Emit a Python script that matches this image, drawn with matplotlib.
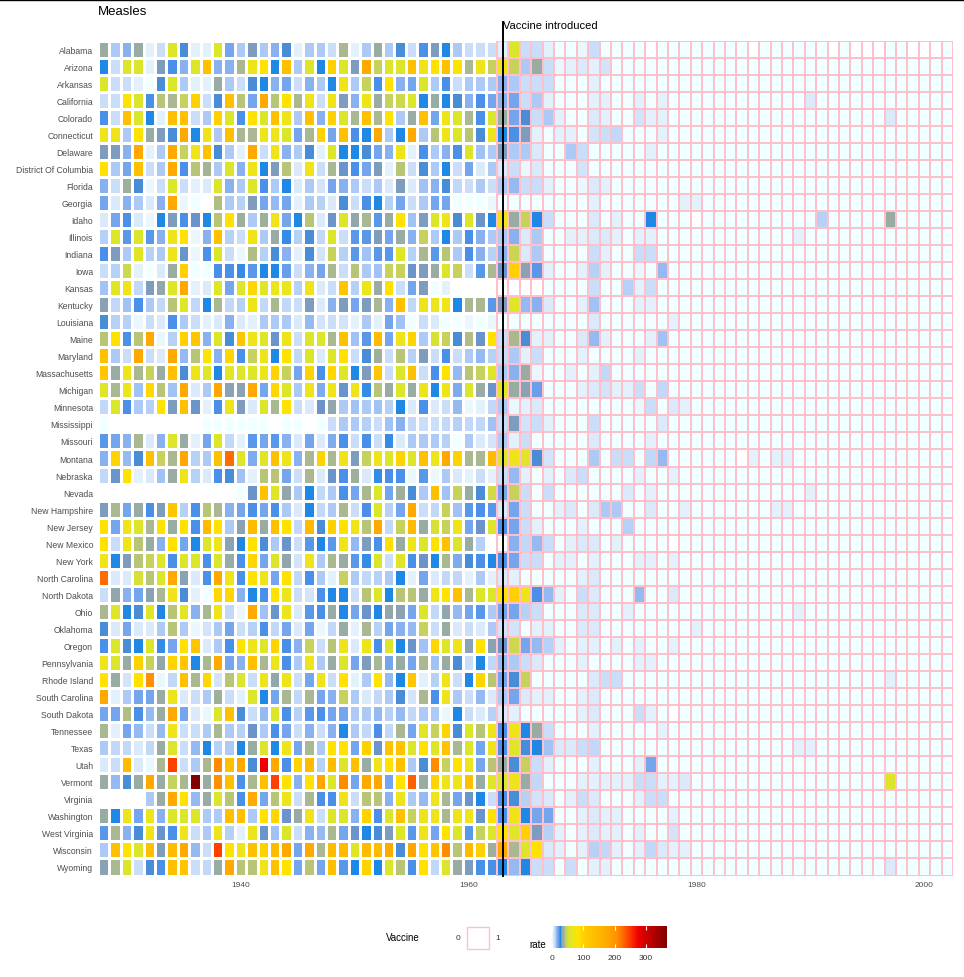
import numpy as np
import matplotlib
matplotlib.use("Agg")
import matplotlib.pyplot as plt
from matplotlib.colors import LinearSegmentedColormap, Normalize
from matplotlib.cm import ScalarMappable
from matplotlib.patches import Rectangle
from matplotlib.lines import Line2D
from matplotlib.transforms import blended_transform_factory

plt.rcParams['font.family'] = ['Liberation Sans', 'DejaVu Sans']

N = np.nan
years = np.arange(1928, 2003)
vaccine_year = 1963

states = ["Alabama", "Arizona", "Arkansas", "California", "Colorado", "Connecticut",
          "Delaware", "District Of Columbia", "Florida", "Georgia", "Idaho", "Illinois",
          "Indiana", "Iowa", "Kansas", "Kentucky", "Louisiana", "Maine", "Maryland",
          "Massachusetts", "Michigan", "Minnesota", "Mississippi", "Missouri", "Montana",
          "Nebraska", "Nevada", "New Hampshire", "New Jersey", "New Mexico", "New York",
          "North Carolina", "North Dakota", "Ohio", "Oklahoma", "Oregon", "Pennsylvania",
          "Rhode Island", "South Carolina", "South Dakota", "Tennessee", "Texas", "Utah",
          "Vermont", "Virginia", "Washington", "West Virginia", "Wisconsin", "Wyoming"]

# measles rate per state, one value per year 1928-2002
rates = [
    [35,12,16,35,4, 8,55,28,4,4, 55,20,12,31,12, 16,28,4,12,12, 8,39,4,12,35, 12,28,8,23,31, 26,12,8,8,8, 4,55,8,8,4,
     0,0,2,8,0, 0,0,0,N,0, 0,0,0,0,0, 0,0,N,0,0, 0,0,0,0,N, 0,N,N,N,0, 0,N,N,N,0],  # Alabama
    [26,8,55,55,4, 31,23,16,55,130, 16,16,39,70,85, 26,130,12,55,26, 100,55,31,175,45, 55,55,130,70,85, 130,85,39,70,45, 70,45,12,35,8,
     2,4,5,4,6, 0,0,0,0,0, 0,0,0,0,0, 0,0,0,0,0, 0,0,0,0,0, 0,0,0,0,0, 0,0,0,0,0],  # Arizona
    [55,8,8,4,1, 28,55,12,4,4, 35,12,8,28,26, 16,20,8,16,12, 26,70,12,45,23, 85,16,20,55,12, 23,8,12,12,12, 16,12,8,8,8,
     0,0,0,4,0, 0,0,0,0,0, 0,0,0,0,0, 0,0,0,0,0, 0,0,0,0,0, 0,0,0,0,0, 0,0,0,0,0],  # Arkansas
    [8,8,85,55,23, 42,39,45,100,8, 28,130,42,20,175, 42,85,40,70,8, 70,31,16,70,35, 45,48,55,26,35, 26,28,16,23,20, 16,20,8,12,4,
     0,0,0,4,4, 0,0,4,0,4, 0,0,0,0,0, 0,0,0,0,0, 0,0,5,0,0, 0,0,0,0,0, 0,0,0,0,0],  # California
    [23,8,130,55,26, 4,130,130,8,12, 100,55,23,85,55, 130,70,12,130,16, 100,55,39,130,39, 85,12,35,130,20, 70,55,39,23,55, 35,20,28,8,12,
     4,0,0,5,4, 0,0,6,4,4, 0,0,0,0,0, 0,0,0,0,0, 0,0,0,0,0, 0,0,0,0,5, 0,0,0,0,0],  # Colorado
    [70,70,12,85,35, 31,28,175,26,70, 12,130,40,39,70, 70,55,20,39,100, 20,130,23,26,175, 12,26,175,12,42, 70,55,42,28,70, 26,23,31,4,1,
     4,4,0,6,8, 9,0,0,0,4, 0,0,0,0,0, 0,0,0,0,0, 0,0,0,0,0, 0,0,0,0,0, 0,0,0,0,0],  # Connecticut
    [31,31,16,175,4, 12,175,45,70,130, 28,12,4,175,8, 70,16,12,28,4, 55,26,26,28,20, 16,70,4,23,12, 16,23,55,14,12, 31,12,12,5,1,
     0,12,8,0,0, 0,0,0,4,0, 0,0,0,0,0, 0,0,0,0,0, 0,0,0,0,0, 0,0,0,0,0, 0,0,0,0,0],  # Delaware
    [85,12,20,130,8, 12,175,23,42,38, 12,55,16,70,26, 31,42,5,70,8, 39,30,23,20,31, 4,42,8,28,12, 26,8,20,5,12, 5,8,2,5,1,
     0,0,6,0,0, 0,0,0,0,0, 0,0,0,0,0, 0,0,0,0,0, 0,0,0,0,0, 0,0,0,0,0, 0,0,0,0,0],  # District Of Columbia
    [16,8,37,28,2, 8,55,8,4,5, 55,16,12,55,23, 12,26,5,12,6, 20,16,12,8,12, 5,31,5,14,16, 28,10,8,12,8, 12,15,8,8,4,
     0,0,2,5,3, 0,0,0,0,0, 0,0,0,0,0, 0,0,0,0,0, 0,0,0,0,0, 0,0,0,0,0, 0,0,0,0,0],  # Florida
    [20,5,16,12,5, 16,175,2,1,N, 41,12,11,31,20, 15,20,4,12,11, 5,28,8,23,26, 11,20,8,12,20, 20,1,0,1,2, 1,0,0,0,0,
     0,0,0,4,0, 0,0,0,0,0, 0,3,3,0,0, 0,0,0,0,0, 0,0,0,0,0, 0,0,0,0,0, 0,0,0,0,0],  # Georgia
    [5,20,23,5,2, 26,31,23,30,27, 42,85,36,12,36, 70,20,26,42,5, 30,55,33,39,22, 35,85,13,31,55, 70,28,55,30,26, 70,35,45,26,8,
     0,0,0,5,0, 4,0,0,26,0, 0,0,N,0,0, 0,0,0,0,0, 0,0,0,11,0, 0,0,0,0,35, 0,0,0,0,0],  # Idaho
    [11,55,22,55,22, 16,70,85,2,16, 130,11,8,70,12, 35,25,11,28,9, 55,8,22,22,31, 20,35,16,45,12, 26,12,23,16,12, 12,16,5,12,1,
     0,3,4,5,5, 3,0,3,3,0, 0,0,0,0,0, 0,0,0,0,0, 0,4,0,0,0, 0,0,0,0,0, 0,0,0,0,0],  # Illinois
    [24,31,12,58,11, 12,68,30,2,23, 55,8,2,41,11, 28,16,4,28,6, 45,11,22,13,22, 22,58,11,39,22, 42,12,23,16,11, 16,47,5,12,1,
     0,0,0,8,4, 0,0,8,8,0, 0,0,0,0,0, 0,0,0,0,0, 0,0,0,0,0, 0,0,0,0,0, 0,0,0,0,0],  # Indiana
    [8,11,48,4,0, 5,35,100,0,0, 23,23,25,22,26, 27,21,8,16,20, 39,8,42,12,13, 45,45,30,31,35, 55,45,8,22,39, 30,100,32,22,4,
     0,0,3,11,3, 0,0,2,0,15, 0,0,0,0,0, 0,0,0,0,0, 0,0,0,0,0, 0,0,0,0,0, 0,0,0,0,0],  # Iowa
    [13,58,70,10,31, 33,58,175,4,5, 58,20,55,95,58, 66,66,11,70,5, 8,120,11,66,35, 85,8,20,31,1, 4,N,N,N,N, N,N,N,N,0,
     0,0,0,8,0, 0,11,4,8,0, 0,0,0,0,0, 0,0,0,0,0, 0,0,0,0,0, 0,0,0,0,0, 0,0,0,0,0],  # Kansas
    [32,9,13,23,12, 9,42,57,9,27, 40,9,11,70,9, 40,9,8,31,5, 16,31,20,31,40, 16,130,9,68,68, 72,26,39,39,22, 31,58,15,17,5,
     0,0,4,13,0, 0,0,4,4,0, 0,0,0,0,0, 0,0,0,0,0, 0,0,0,0,0, 0,0,0,0,0, 0,0,0,0,0],  # Kentucky
    [28,11,11,2,8, 5,23,12,8,4, 5,16,5,4,12, 12,12,5,15,6, 8,6,4,12,4, 20,13,1,8,5, 1,1,2,1,2, 1,0,0,0,0,
     0,0,0,5,0, 0,0,0,0,0, 3,0,0,0,0, 0,0,0,0,0, 0,0,0,0,0, 0,0,0,0,0, 0,0,0,0,0],  # Louisiana
    [42,85,23,42,175, 2,11,100,120,16, 55,28,120,70,58, 30,70,8,55,55, 39,130,13,22,140, 20,68,98,12,52, 45,28,41,30,85, 8,40,28,4,4,
     0,0,5,15,4, 0,0,0,3,14, 0,0,0,0,0, 0,0,0,0,0, 0,0,0,0,0, 0,0,0,0,0, 0,0,0,0,0],  # Maine
    [130,12,8,175,8, 5,175,15,42,85, 16,95,23,45,68, 26,85,10,55,5, 55,85,8,28,36, 8,42,11,31,8, 23,8,12,15,11, 8,12,4,8,1,
     0,0,4,0,0, 0,0,3,0,0, 0,0,0,0,0, 0,0,0,0,0, 0,0,0,0,0, 0,0,0,0,0, 0,0,0,0,0],  # Maryland
    [120,35,70,39,45, 35,130,28,68,57, 26,62,57,57,68, 98,45,20,98,23, 95,58,27,31,120, 8,55,130,8,23, 85,15,42,45,55, 12,16,35,2,1,
     0,3,0,4,9, 0,0,0,0,0, 0,0,0,0,0, 0,0,0,0,0, 0,0,0,0,0, 0,0,0,0,0, 0,0,0,0,0],  # Massachusetts
    [58,39,68,14,95, 42,14,180,5,12, 180,32,32,175,20, 95,55,12,68,18, 70,30,68,25,42, 35,55,35,68,26, 70,18,55,35,30, 58,35,32,21,1,
     0,0,4,5,6, 4,4,8,0,10, 0,0,0,0,0, 0,0,0,0,0, 0,0,0,0,0, 0,0,0,0,0, 0,0,0,0,0],  # Michigan
    [9,55,23,12,11, 85,31,130,30,4, 23,70,31,5,55, 40,85,8,5,30, 34,12,14,12,14, 11,26,5,24,5, 8,15,2,4,10, 12,2,4,5,1,
     0,0,0,0,0, 0,0,2,8,0, 5,4,0,0,0, 0,0,0,0,0, 0,0,0,0,0, 0,0,0,0,0, 0,0,0,0,0],  # Minnesota
    [0,N,N,N,N, N,N,N,N,0, 0,0,0,0,0, N,0,0,N,1, 8,12,12,11,8, 14,16,9,8,8, 9,11,9,9,14, 8,31,6,8,4,
     0,0,0,8,0, 0,0,0,0,5, 0,0,0,0,0, 0,0,0,0,0, 0,0,0,0,0, 0,0,0,0,0, 0,0,0,0,0],  # Mississippi
    [22,20,16,40,5, 16,55,35,4,20, 55,9,4,22,20, 22,16,5,20,5, 18,23,8,23,8, 25,5,12,12,12, 11,1,12,5,6, 12,4,8,1,1,
     0,0,0,5,0, 0,0,0,3,0, 0,0,0,0,0, 0,0,0,0,0, 0,0,0,0,0, 0,0,0,0,0, 0,0,0,0,0],  # Missouri
    [16,98,15,28,130, 45,39,180,11,12, 130,225,57,18,57, 130,70,16,40,98, 40,70,31,45,70, 55,98,55,130,68, 175,98,39,40,140, 55,70,57,28,6,
     0,0,0,12,0, 8,8,0,9,15, 0,0,0,0,0, 0,N,4,0,4, 3,0,0,0,0, 0,0,0,0,0, 0,0,0,0,0],  # Montana
    [10,30,85,4,5, 14,35,70,11,5, 23,28,14,4,42, 42,20,8,40,5, 30,23,36,5,25, 23,23,2,22,2, 12,5,4,8,3, 8,15,4,1,4,
     0,5,8,0,0, 0,0,4,0,0, 3,0,0,0,0, 0,0,0,0,0, 0,0,0,0,0, 0,0,0,0,0, 0,0,0,0,0],  # Nebraska
    [N,N,N,N,N, N,N,N,N,N, N,N,0,30,130, 57,34,12,27,10, 12,24,19,40,55, 19,36,28,12,130, 13,45,35,28,50, 20,45,8,1,8,
     0,0,0,0,0, 0,5,0,4,0, 0,0,0,0,0, 0,0,0,0,0, 0,0,3,0,0, 0,0,0,0,0, 0,0,0,0,0],  # Nevada
    [31,39,20,35,23, 31,120,11,23,42, 40,16,19,23,19, 23,12,5,26,10, 12,40,8,24,55, 11,19,175,8,10, 45,14,22,23,22, 5,19,8,1,1,
     4,5,0,5,12, 12,0,0,5,0, 0,4,0,0,0, 0,0,0,0,3, 3,0,0,0,0, 0,0,0,0,0, 0,0,0,0,0],  # New Hampshire
    [85,20,70,55,39, 85,35,85,23,140, 85,12,32,140,35, 130,85,10,140,28, 100,85,70,42,175, 10,45,140,35,52, 45,70,19,30,55, 23,20,8,4,1,
     0,0,3,0,0, 0,11,0,0,0, 0,0,0,0,0, 0,0,0,0,0, 0,0,0,0,0, 0,0,0,0,0, 0,0,0,0,0],  # New Jersey
    [85,8,70,42,35, 16,85,20,26,55, 70,32,26,85,28, 12,30,8,22,27, 22,70,15,31,23, 85,35,68,55,85, 130,55,35,11,N, N,16,10,15,8,
     0,4,5,5,0, 4,0,0,0,0, N,0,0,0,0, 0,0,0,0,0, 0,0,0,0,0, 0,0,0,0,0, 0,0,0,0,0],  # New Mexico
    [70,26,31,42,45, 57,24,55,55,23, 55,35,24,95,20, 55,34,6,68,12, 39,35,22,25,55, 8,57,23,30,26, 39,18,28,23,27, 23,19,8,8,1,
     3,3,0,4,0, 0,0,4,3,0, 3,0,0,0,0, 0,0,0,0,0, 0,0,0,0,0, 0,0,0,0,0, 0,0,0,0,0],  # New York
    [225,5,5,52,42, 55,175,32,5,24, 175,70,24,85,68, 20,85,9,23,12, 4,45,12,10,11, 12,26,4,20,5, 10,10,4,12,4, 5,4,1,1,1,
     0,0,3,5,0, 0,0,0,0,0, 0,0,0,0,0, 0,0,0,0,0, 0,0,0,0,0, 0,0,0,0,0, 0,0,0,0,0],  # North Carolina
    [8,34,16,20,32, 39,70,28,4,1, 95,95,16,26,24, 85,68,8,6,23, 26,27,8,42,55, 27,42,42,35,70, 85,130,40,55,55, 85,100,70,24,15,
     4,0,8,5,0, 0,0,15,0,0, 5,0,0,0,0, 0,0,0,0,0, 0,0,0,0,0, 0,0,0,0,0, 0,0,0,0,0],  # North Dakota
    [39,57,27,28,57, 26,42,57,16,39, 70,9,2,175,13, 29,68,5,22,24, 35,27,19,30,27, 34,32,20,55,10, 33,15,20,22,12, 20,20,11,8,1,
     0,0,5,5,0, 0,4,0,0,0, 0,0,0,0,0, 0,0,0,0,0, 0,4,0,0,0, 0,0,0,0,0, 0,0,0,0,0],  # Ohio
    [28,5,19,5,5, 12,42,12,2,6, 12,20,8,11,24, 9,19,5,20,2, 9,35,4,39,11, 20,16,15,45,8, 35,5,8,5,12, 6,7,1,4,4,
     0,0,5,5,0, 0,0,0,0,0, 0,0,4,0,0, 0,0,0,0,0, 0,0,0,0,0, 0,0,0,0,0, 0,0,0,0,0],  # Oklahoma
    [24,55,28,27,55, 25,20,85,120,5, 12,24,85,70,57, 98,24,16,45,8, 42,70,5,70,23, 55,27,30,14,95, 55,70,32,85,32, 30,48,20,15,11,
     4,0,4,4,0, 4,0,4,0,0, 4,0,0,0,0, 0,0,0,0,0, 0,0,0,0,0, 0,0,0,0,0, 0,0,0,0,0],  # Oregon
    [70,55,35,100,45, 33,98,120,26,40, 175,20,16,130,39, 68,24,12,70,12, 35,55,20,31,39, 19,35,20,40,14, 35,28,8,26,9, 15,12,8,5,1,
     0,0,4,0,0, 0,0,4,4,0, 0,0,0,0,0, 0,0,0,0,0, 0,0,0,0,0, 0,0,0,0,0, 0,0,0,0,0],  # Pennsylvania
    [85,35,6,85,205, 2,9,130,40,95, 6,42,55,8,68, 33,68,8,20,70, 8,85,4,12,85, 15,26,120,4,11, 68,8,26,98,42, 20,28,45,1,1,
     0,0,0,5,8, 8,0,0,0,0, 0,0,0,0,0, 0,0,0,0,0, 0,0,0,0,0, 0,0,0,0,4, 0,0,0,0,0],  # Rhode Island
    [175,4,12,20,19, 35,68,5,8,12, 36,8,4,55,26, 19,40,9,39,19, 16,45,12,5,10, 12,28,6,39,24, 68,12,8,15,5, 12,20,5,4,3,
     0,0,4,5,0, 0,0,0,0,0, 0,0,0,0,0, 0,0,0,0,0, 0,0,0,0,0, 0,0,0,0,0, 0,0,0,0,0],  # South Carolina
    [20,20,41,24,15, 35,175,20,5,2, 55,130,28,8,15, 55,24,11,22,23, 20,19,12,12,15, 11,15,10,12,12, 2,26,8,5,11, 5,4,1,1,1,
     0,0,3,5,0, 0,0,8,4,0, N,0,0,0,0, 0,0,0,0,0, 0,0,0,0,0, 0,0,0,0,0, 0,0,0,0,0],  # South Dakota
    [40,4,20,15,8, 15,70,8,8,12, 40,12,11,30,12, 23,20,8,16,8, 16,26,12,10,23, 10,40,20,57,45, 98,28,55,42,70, 23,70,26,35,8,
     0,0,0,4,0, 0,0,0,0,4, 0,0,0,0,0, 0,0,0,0,0, 0,0,0,0,0, 0,0,0,0,0, 0,0,0,0,0],  # Tennessee
    [12,9,9,5,9, 35,55,8,15,26, 11,12,27,35,55, 27,68,20,40,12, 85,85,20,100,30, 125,125,55,85,57, 125,39,55,19,68, 23,57,28,26,14,
     5,5,8,10,0, 0,0,0,0,0, 0,0,0,0,0, 0,0,0,0,0, 0,4,4,0,0, 0,0,0,0,0, 0,0,0,0,0],  # Texas
    [5,8,140,5,2, 40,245,8,12,40, 210,130,175,28,275, 175,23,98,140,11, 140,55,130,35,70, 85,130,12,28,210, 45,85,68,20,42, 35,28,45,8,4,
     0,0,0,4,0, 0,0,4,20,0, 0,0,0,0,0, 0,0,0,0,0, 0,0,0,0,0, 0,0,0,0,0, 0,0,0,0,0],  # Utah
    [35,15,28,35,175, 35,45,39,365,35, 205,130,23,40,130, 245,85,16,85,180, 55,210,19,175,180, 19,85,230,35,98, 68,68,130,35,58, 55,68,35,10,1,
     0,0,4,4,4, 4,4,8,8,4, 4,5,0,0,0, 0,0,0,0,0, 0,0,0,0,0, 0,0,0,0,55, 0,0,0,0,0],  # Vermont
    [N,N,N,N,12, 35,175,85,15,35, 55,42,24,175,20, 42,68,8,39,23, 24,68,8,42,42, 16,68,12,15,68, 39,20,30,26,8, 23,28,11,6,5,
     0,3,8,5,0, 0,0,3,8,8, 0,0,0,0,0, 0,0,0,0,0, 0,0,0,0,0, 0,0,0,0,0, 0,0,0,0,0],  # Virginia
    [35,26,68,20,70, 16,55,55,55,12, 12,130,130,12,85, 95,30,35,68,8, 55,55,16,98,24, 55,130,45,68,68, 40,68,68,30,85, 23,70,26,19,19,
     0,0,3,5,3, 3,0,0,0,0, 4,0,0,0,0, 0,0,0,0,0, 0,0,0,0,0, 0,0,0,0,0, 0,0,0,0,0],  # Washington
    [22,40,16,28,68, 30,24,68,8,12, 68,11,4,68,30, 14,55,8,16,15, 39,20,30,27,28, 31,55,22,68,20, 85,55,22,45,55, 85,57,100,31,11,
     3,0,3,5,3, 3,0,3,0,0, 6,0,0,0,0, 0,0,0,0,0, 0,0,0,0,0, 0,0,0,0,0, 0,0,0,0,0],  # West Virginia
    [12,130,85,55,130, 31,140,175,15,8, 245,85,70,130,100, 140,175,19,175,39, 140,140,58,140,140, 175,28,180,85,125, 210,42,140,100,36, 175,39,55,85,5,
     4,0,3,11,10, 4,0,4,10,5, 4,4,0,0,0, 0,0,0,0,0, 0,0,0,0,0, 0,0,0,0,0, 0,0,0,0,0],  # Wisconsin
    [32,39,55,8,28, 24,130,120,8,10, 35,175,42,42,70, 130,85,19,42,19, 130,22,27,98,26, 55,42,23,85,10, 55,35,31,23,24, 26,15,26,8,8,
     0,8,0,4,4, 0,0,0,0,0, 0,0,0,0,0, 0,0,0,0,0, 0,0,0,0,0, 0,0,0,0,5, 0,0,0,0,0],  # Wyoming
]
for r in rates:
    assert len(r) == len(years)

# colour ramp: azure -> blues -> grey -> yellow -> orange -> red -> dark red
stops = [0, 2, 4, 8, 12, 16, 20, 23, 26, 28, 31, 35, 39, 45, 55, 70, 85, 100, 130, 175, 210, 230, 245, 275, 367]
stop_colors = ["#F0FFFF", "#E8F5FE", "#DDEBFB", "#C6DBF8", "#A8C8F5", "#88B0F0", "#6AA0EB", "#4A90E8",
               "#1E88E5", "#6090D0", "#88A0B8", "#9AAEA0", "#AAB890", "#C8D458", "#DCE628", "#F0E418",
               "#FFE200", "#FFD000", "#FFC000", "#FFAA00", "#FF8C00", "#FF6000", "#FF4000", "#EE0000", "#800000"]
vmax = stops[-1]
cmap = LinearSegmentedColormap.from_list("measles", [(v / vmax, c) for v, c in zip(stops, stop_colors)])
cmap.set_bad((1, 1, 1, 0))
norm = Normalize(0, vmax)

W, H = 964, 978
fig = plt.figure(figsize=(W / 100, H / 100), dpi=100)
ax = fig.add_axes([98 / W, 1 - 876.5 / H, 855 / W, 835 / H])

Z = np.ma.masked_invalid(np.array(rates, dtype=float))
xe = np.append(years - 0.5, years[-1] + 0.5)
ye = np.arange(len(states) + 1)
k = int((years < vaccine_year).sum())
m1 = ax.pcolormesh(xe[:k + 1], ye, Z[:, :k], cmap=cmap, norm=norm, edgecolors="white", linewidth=1.0)
m2 = ax.pcolormesh(xe[k:], ye, Z[:, k:], cmap=cmap, norm=norm, edgecolors="#FFC0CB", linewidth=1.2)
m1.set_snap(True)
m2.set_snap(True)

ax.set_xlim(xe[0], xe[-1])
ax.set_ylim(len(states), 0)
ax.set_yticks(np.arange(len(states)) + 0.5)
ax.set_yticklabels(states)
ax.set_xticks([1940, 1960, 1980, 2000])
ax.tick_params(axis="y", length=0, pad=3.6, labelsize=6.2, labelcolor="#4D4D4D")
ax.tick_params(axis="x", length=0, pad=4, labelsize=6, labelcolor="#4D4D4D")
for s in ax.spines.values():
    s.set_visible(False)

tr = blended_transform_factory(ax.transData, ax.transAxes)
ax.plot([vaccine_year, vaccine_year], [0, 1.022], transform=tr, color="black", lw=1.4, clip_on=False)
ax.text(vaccine_year, 1.0186, "Vaccine introduced", transform=tr, ha="left", va="center", fontsize=8)

fig.text(98 / W, 1 - 12 / H, "Measles", ha="left", va="center", fontsize=9.5)
fig.add_artist(Line2D([0, 1], [1 - 0.5 / H, 1 - 0.5 / H], color="black", lw=1))

# colour legend for rate
cax = fig.add_axes([552 / W, 1 - 949 / H, 115 / W, 22 / H])
cb = fig.colorbar(ScalarMappable(norm=norm, cmap=cmap), cax=cax, orientation="horizontal")
cb.set_ticks([0, 100, 200, 300])
cb.outline.set_visible(False)
cax.tick_params(axis="x", direction="in", length=3, width=0.8, color="white", top=True,
                labelsize=6, pad=4, labelcolor="#333333")
fig.text(546 / W, 1 - 945 / H, "rate", ha="right", va="center", fontsize=7)

# vaccine legend
fig.text(386 / W, 1 - 938.5 / H, "Vaccine", ha="left", va="center", fontsize=7)
fig.text(457.5 / W, 1 - 938.5 / H, "0", ha="center", va="center", fontsize=6, color="#333333")
fig.text(497.5 / W, 1 - 938.5 / H, "1", ha="center", va="center", fontsize=6, color="#333333")
fig.add_artist(Rectangle((467 / W, 1 - 949.5 / H), 21.5 / W, 22 / H, transform=fig.transFigure,
                         facecolor="white", edgecolor="#FFC0CB", lw=1))

fig.savefig("out.png", dpi=100)
